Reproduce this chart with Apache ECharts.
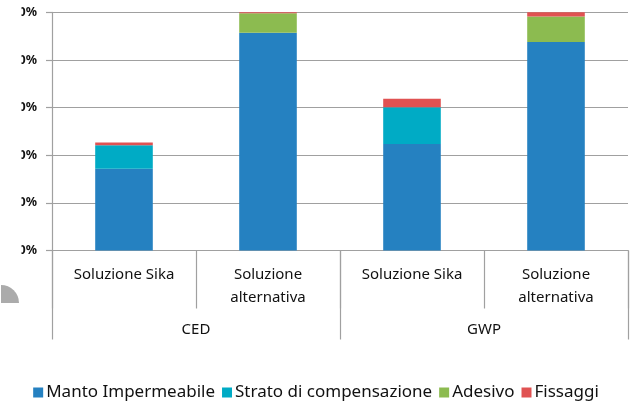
<!DOCTYPE html>
<html>
<head>
<meta charset="utf-8">
<script src="https://cdn.jsdelivr.net/npm/echarts@6/dist/echarts.min.js"></script>
<style>
html,body{margin:0;padding:0;background:#fff;}
#chart{width:632px;height:405px;}
</style>
</head>
<body>
<div id="chart"></div>
<script>
// Data
const categories = ['Soluzione Sika', 'Soluzione\nalternativa', 'Soluzione Sika', 'Soluzione\nalternativa'];
const groups = ['CED', 'GWP'];
const yTicks = ['0%', '20%', '40%', '60%', '80%', '100%'];
const seriesNames = ['Manto Impermeabile', 'Strato di compensazione', 'Adesivo', 'Fissaggi'];
const manto = [34.3, 91.4, 44.7, 87.5];
const strato = [9.9, 0, 15.4, 0];
const adesivo = [0, 8.2, 0, 10.7];
const fissaggi = [1.1, 0.4, 3.6, 1.8];

const colors = ['#2581C1', '#00ABC5', '#8CBB50', '#E05252'];
const gray = '#A0A0A0';
const font = 'Noto Sans';
const txt = '#111';

const chart = echarts.init(document.getElementById('chart'), null, {renderer: 'canvas'});
const values = [manto, strato, adesivo, fissaggi];

const option = {
  animation: false,
  color: colors,
  grid: {left: 52, right: 4, top: 12.3, bottom: 154.5, containLabel: false},
  legend: {
    top: 379,
    left: 'center',
    icon: 'rect',
    itemWidth: 10,
    itemHeight: 10,
    itemGap: 7,
    data: seriesNames,
    textStyle: {fontFamily: font, fontSize: 17, color: txt, padding: [0, 0, 0, -2]}
  },
  xAxis: [
    {
      type: 'category',
      data: categories,
      position: 'bottom',
      axisLine: {show: true, lineStyle: {color: gray, width: 1.2}},
      axisTick: {show: true, interval: 0, length: 58, lineStyle: {color: gray, width: 1.2}},
      axisLabel: {interval: 0, margin: 13, fontFamily: font, fontSize: 15, lineHeight: 23, color: txt},
      splitLine: {show: false}
    },
    {
      type: 'category',
      data: groups,
      position: 'bottom',
      axisLine: {show: false},
      axisTick: {show: true, interval: 0, length: 89, lineStyle: {color: gray, width: 1.2}},
      axisLabel: {interval: 0, margin: 72, fontFamily: font, fontSize: 15, color: txt},
      splitLine: {show: false}
    }
  ],
  yAxis: {
    type: 'value',
    min: 0,
    max: 100,
    interval: 20,
    axisLine: {show: true, lineStyle: {color: gray, width: 1.2}},
    axisTick: {show: true, length: 6, lineStyle: {color: gray, width: 1.2}},
    axisLabel: {
      margin: 15,
      fontFamily: font,
      fontWeight: 'bold',
      fontSize: 12.5,
      color: txt,
      formatter: function (v) { return yTicks[Math.round(v / 20)]; }
    },
    splitLine: {show: true, lineStyle: {color: gray, width: 1.2}}
  },
  graphic: [
    {type: 'rect', z: 100, shape: {x: 0, y: 0, width: 21.5, height: 262}, style: {fill: '#fff'}},
    {type: 'sector', z: 100, shape: {cx: 1, cy: 303, r: 18, r0: 0, startAngle: Math.PI * 1.5, endAngle: 2 * Math.PI}, style: {fill: '#ABABAB'}}
  ],
  series: seriesNames.map(function (name, i) {
    return {
      name: name,
      type: 'bar',
      stack: 'total',
      barWidth: '40%',
      xAxisIndex: 0,
      data: values[i],
      itemStyle: {color: colors[i]}
    };
  })
};
chart.setOption(option);
</script>
</body>
</html>
